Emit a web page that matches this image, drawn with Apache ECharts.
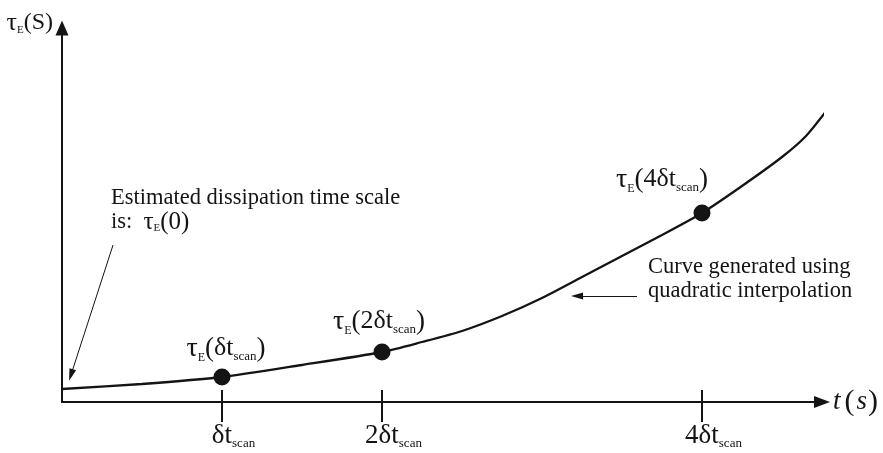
<!DOCTYPE html>
<html>
<head>
<meta charset="utf-8">
<script src="https://cdn.jsdelivr.net/npm/echarts@6/dist/echarts.min.js"></script>
<style>
  html, body { margin: 0; padding: 0; background: #ffffff; }
  #chart { width: 883px; height: 453px; }
</style>
</head>
<body>
<div id="chart"></div>
<script>
// Time, in multiples of the scan interval δt_scan, along the interpolated curve
const curveT   = [0, 0.5, 1, 1.5, 2, 2.25, 2.5, 2.75, 3, 3.25, 3.5, 3.75, 4, 4.25, 4.5, 4.65, 4.8];
// Dissipation time scale τ_E on the curve (arbitrary units)
const curveTau = [1.3, 1.8, 2.5, 3.7, 5.0, 6.0, 7.1, 8.6, 10.4, 12.5, 14.6, 16.7, 18.9, 21.6, 24.5, 26.6, 29.6];

// Scans where τ_E is evaluated
const sampleT     = [1, 2, 4];
const sampleTau   = [2.5, 5.0, 18.9];
const sampleNames = ['δt', '2δt', '4δt'];

// Time-axis ticks
const tickValues = [1, 2, 4];
const tickLabels = ['δt', '2δt', '4δt'];
const tickSub    = 'scan';

const INK = '#141414';
const SERIF = '"Liberation Serif", "DejaVu Serif", serif';

const chart = echarts.init(document.getElementById('chart'), null, { renderer: 'canvas' });

// Rich-text pieces for τ_E(...) style labels
const labelRich = {
  tau: { fontFamily: SERIF, fontSize: 28, color: INK, lineHeight: 30 },
  e:   { fontFamily: SERIF, fontSize: 12, color: INK, lineHeight: 11, verticalAlign: 'bottom' },
  par: { fontFamily: SERIF, fontSize: 27, color: INK, lineHeight: 30 },
  m:   { fontFamily: SERIF, fontSize: 26, color: INK, lineHeight: 30 },
  s:   { fontFamily: SERIF, fontSize: 13, color: INK, lineHeight: 10, verticalAlign: 'bottom' }
};

const sampleLabelShift = [[4, 0], [-3, -2], [-40, -5]];

const curveData = curveT.map((t, i) => [t, curveTau[i]]);
const sampleData = sampleT.map((t, i) => ({
  value: [t, sampleTau[i]],
  label: {
    offset: sampleLabelShift[i],
    formatter: '{tau|τ}{e|E}{par|(}{m|' + sampleNames[i] + '}{s|' + tickSub + '}{par|)}'
  }
}));

const xRange = { min: 0, max: 4.75 };

const option = {
  animation: false,
  backgroundColor: '#ffffff',
  grid: { left: 62, right: 61, top: 28, bottom: 51, containLabel: false, outerBoundsMode: 'none' },
  xAxis: [
    {
      type: 'value', position: 'bottom', min: xRange.min, max: xRange.max,
      axisLine: {
        show: true, onZero: false,
        symbol: ['none', 'triangle'], symbolSize: [12, 16],
        lineStyle: { color: INK, width: 2 }
      },
      axisTick: {
        show: true, inside: false, length: 20, customValues: tickValues,
        lineStyle: { color: INK, width: 2 }
      },
      axisLabel: {
        show: true, margin: 20, customValues: tickValues,
        formatter: (v) => {
          const i = tickValues.indexOf(v);
          return '{pad| }{m|' + tickLabels[i] + '}{s|' + tickSub + '}';
        },
        rich: {
          pad: { width: 23, fontSize: 12, lineHeight: 10 },
          m: { fontFamily: SERIF, fontSize: 27, color: INK, lineHeight: 28 },
          s: { fontFamily: SERIF, fontSize: 13, color: INK, lineHeight: 9, verticalAlign: 'bottom' }
        }
      },
      splitLine: { show: false },
      name: '{t|t}{p|(}{u|s}{p|)}',
      nameLocation: 'end',
      nameGap: 11,
      nameTextStyle: {
        rich: {
          t: { fontFamily: SERIF, fontStyle: 'italic', fontSize: 27, color: INK, padding: [0, 4, 0, 0] },
          p: { fontFamily: SERIF, fontSize: 30, color: INK },
          u: { fontFamily: SERIF, fontStyle: 'italic', fontSize: 27, color: INK, padding: [0, 1, 0, 2] }
        }
      }
    },
    {
      // upper half of the tick marks, crossing the axis line
      type: 'value', position: 'bottom', min: xRange.min, max: xRange.max,
      axisLine: { show: false, onZero: false },
      axisTick: {
        show: true, inside: true, length: 12, customValues: tickValues,
        lineStyle: { color: INK, width: 2 }
      },
      axisLabel: { show: false },
      splitLine: { show: false }
    }
  ],
  yAxis: {
    type: 'value', min: 0, max: 37.4,
    axisLine: {
      show: true, onZero: false,
      symbol: ['none', 'triangle'], symbolSize: [13, 15],
      lineStyle: { color: INK, width: 2 }
    },
    axisTick: { show: false },
    axisLabel: { show: false },
    splitLine: { show: false },
    name: '{tau|τ}{e|E}{par|(}{u|S}{par|)}',
    nameLocation: 'end',
    nameGap: -8,
    nameTextStyle: {
      align: 'right',
      verticalAlign: 'bottom',
      padding: [0, 9, 0, 0],
      rich: {
        tau: { fontFamily: SERIF, fontSize: 26, color: INK, lineHeight: 26 },
        e:   { fontFamily: SERIF, fontSize: 11, color: INK, lineHeight: 9, verticalAlign: 'bottom' },
        par: { fontFamily: SERIF, fontSize: 24, color: INK, lineHeight: 26 },
        u:   { fontFamily: SERIF, fontSize: 24, color: INK, lineHeight: 26 }
      }
    }
  },
  graphic: [
    {
      type: 'text', left: 111, top: 186, silent: true,
      style: {
        text: 'Estimated dissipation time scale\n{a|is:  }{tau|τ}{e|E}{par|(0)}',
        fontFamily: SERIF, fontSize: 22.5, lineHeight: 24, fill: INK,
        rich: {
          a:   { fontFamily: SERIF, fontSize: 22.5, lineHeight: 24, fill: INK },
          tau: { fontFamily: SERIF, fontSize: 25, lineHeight: 24, fill: INK },
          e:   { fontFamily: SERIF, fontSize: 11, lineHeight: 8, fill: INK, verticalAlign: 'bottom' },
          par: { fontFamily: SERIF, fontSize: 25, lineHeight: 24, fill: INK }
        }
      }
    },
    {
      type: 'text', left: 648, top: 255, silent: true,
      style: {
        text: 'Curve generated using\nquadratic interpolation',
        fontFamily: SERIF, fontSize: 22.5, lineHeight: 24, fill: INK
      }
    }
  ],
  series: [
    {
      type: 'line',
      data: curveData,
      smooth: 0.25,
      showSymbol: false,
      clip: false,
      silent: true,
      lineStyle: { color: INK, width: 2.3 },
      markLine: {
        silent: true,
        symbol: ['none', 'triangle'],
        symbolSize: [7, 12],
        label: { show: false },
        lineStyle: { color: INK, width: 1, type: 'solid' },
        data: [
          [{ coord: [0.319, 15.7] }, { coord: [0.056, 2.7] }],
          [{ coord: [3.594, 10.6] }, { coord: [3.219, 10.6] }]
        ]
      }
    },
    {
      type: 'scatter',
      data: sampleData,
      symbol: 'circle',
      symbolSize: 17,
      silent: true,
      z: 5,
      itemStyle: { color: INK, opacity: 1 },
      label: {
        show: true,
        position: 'top',
        distance: 5,
        rich: labelRich
      }
    }
  ]
};

chart.setOption(option);
</script>
</body>
</html>
